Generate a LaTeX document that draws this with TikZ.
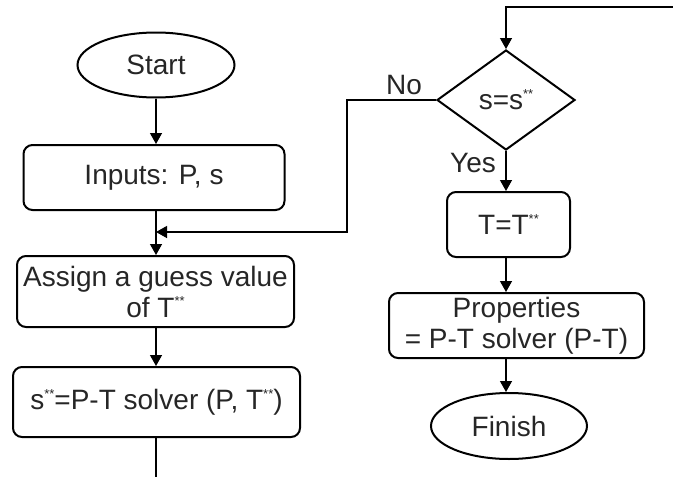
\documentclass[tikz,border=0pt]{standalone}
\usepackage{fontspec}
\setmainfont{Liberation Sans}
\usetikzlibrary{shapes.geometric,arrows.meta}
\newcommand\dstar{\raisebox{0.40em}{\fontsize{13}{13}\selectfont **}}
\begin{document}
\begin{tikzpicture}[x=1pt,y=-1pt,
 every node/.style={font=\fontsize{28}{31}\selectfont, inner sep=0pt, text=black!85},
 box/.style={draw, line width=2pt, rounded corners=9pt, align=center},
 term/.style={draw, ellipse, line width=2pt},
 decn/.style={draw, diamond, line width=2pt},
 conn/.style={line width=1.3pt},
 arr/.style={conn, -{Triangle[width=12pt,length=11pt]}}]
\useasboundingbox (0,0) rectangle (673,477);
% left column
\node[term, minimum width=157pt, minimum height=65pt] (start) at (156,65) {Start};
\node[box, minimum width=261pt, minimum height=65pt] (inputs) at (154,177.5) {Inputs: P, s};
\node[box, minimum width=277pt, minimum height=71pt] (assign) at (155.5,291.5) {Assign a guess value\\ of T\dstar};
\node[box, minimum width=287pt, minimum height=70pt] (solver) at (156.5,402) {s\dstar=P-T solver (P, T\dstar)};
\coordinate (merge) at (156,232);
\coordinate (out) at (156,477);
% right column
\node[decn, minimum width=138pt, minimum height=100pt] (dec) at (506,100) {s=s\dstar};
\node[box, minimum width=123pt, minimum height=65pt] (tbox) at (508.5,224.5) {T=T\dstar};
\node[box, minimum width=255pt, minimum height=65pt] (prop) at (516.5,325.5) {Properties\\ = P-T solver (P-T)};
\node[term, minimum width=156pt, minimum height=66pt] (finish) at (509,426) {Finish};
\coordinate (topin) at (673,7);
\coordinate (nocorner) at (347,232);
% labels
\node (no) at (404,85) {No};
\node (yes) at (473,163) {Yes};
% connectors
\draw[arr] (start.south) -- (start.south |- inputs.north);
\draw[arr] (merge |- inputs.south) -- (merge |- assign.north);
\draw[arr] (merge |- assign.south) -- (merge |- solver.north);
\draw[conn] (merge |- solver.south) -- (out);
\draw[arr] (dec.west) -| (nocorner) -- (merge);
\draw[arr] (topin) -| (dec.north);
\draw[arr] (dec.south) -- (dec.south |- tbox.north);
\draw[arr] (dec.south |- tbox.south) -- (dec.south |- prop.north);
\draw[arr] (dec.south |- prop.south) -- (dec.south |- finish.north);
\end{tikzpicture}
\end{document}
